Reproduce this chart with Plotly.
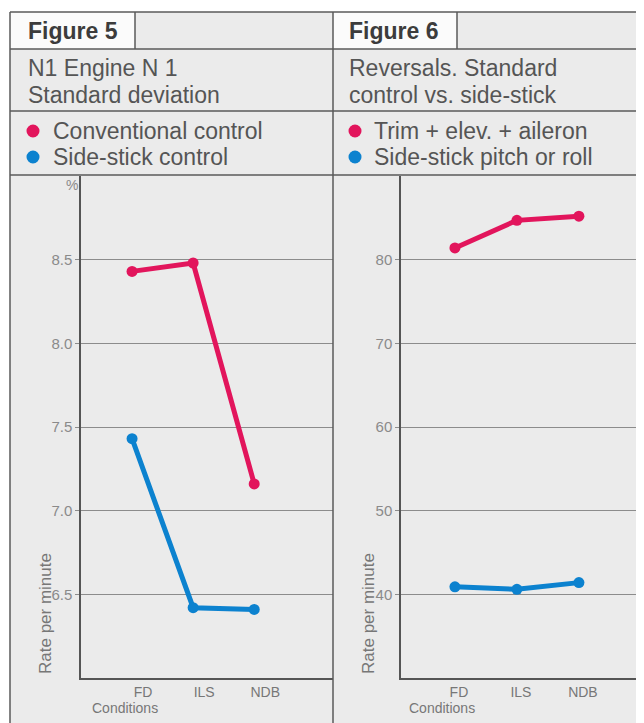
import plotly.graph_objects as go

# The page body has an 8px margin, so the figure is drawn from (8, 8)
OFF = 8
W, H = 644 - OFF, 723 - OFF

# ---- data ----
conditions = ["FD", "ILS", "NDB"]
fig5_conventional = [8.43, 8.48, 7.16]
fig5_sidestick = [7.43, 6.42, 6.41]
fig6_trim_elev_aileron = [81.4, 84.7, 85.2]
fig6_sidestick_pitch_roll = [40.9, 40.6, 41.4]
fig5_yticks = [6.5, 7.0, 7.5, 8.0, 8.5]
fig6_yticks = [40, 50, 60, 70, 80]

RED = "#e2155c"
BLUE = "#0c82cf"
FONT = "Liberation Sans, Arial, Helvetica, sans-serif"


def px(x):
    return (x - OFF) / W


def py(y):
    return 1 - (y - OFF) / H


fig = go.Figure()

fig.add_trace(go.Scatter(x=conditions, y=fig5_conventional, mode="lines+markers",
                         line=dict(color=RED, width=5), marker=dict(color=RED, size=11),
                         xaxis="x", yaxis="y", showlegend=False, name="Conventional control"))
fig.add_trace(go.Scatter(x=conditions, y=fig5_sidestick, mode="lines+markers",
                         line=dict(color=BLUE, width=5), marker=dict(color=BLUE, size=11),
                         xaxis="x", yaxis="y", showlegend=False, name="Side-stick control"))
fig.add_trace(go.Scatter(x=conditions, y=fig6_trim_elev_aileron, mode="lines+markers",
                         line=dict(color=RED, width=5), marker=dict(color=RED, size=11),
                         xaxis="x2", yaxis="y2", showlegend=False, name="Trim + elev. + aileron"))
fig.add_trace(go.Scatter(x=conditions, y=fig6_sidestick_pitch_roll, mode="lines+markers",
                         line=dict(color=BLUE, width=5), marker=dict(color=BLUE, size=11),
                         xaxis="x2", yaxis="y2", showlegend=False, name="Side-stick pitch or roll"))

ydom = [py(678), py(176)]
GRID = "#8c8c8c"
AXL = "#555555"
TICKF = dict(family=FONT, size=15, color="#8a8a8a")

common_y = dict(domain=ydom, showgrid=True, gridcolor=GRID, gridwidth=1.3,
                showline=True, linecolor=AXL, linewidth=1.5, zeroline=False,
                ticks="outside", ticklen=4, tickcolor=GRID, tickwidth=1.3,
                tickfont=TICKF, fixedrange=True)
common_x = dict(type="category", categoryarray=conditions, categoryorder="array",
                showgrid=False, showline=True, linecolor=AXL, linewidth=1.5,
                ticks="", tickfont=dict(family=FONT, size=14, color="#777777"),
                zeroline=False, fixedrange=True)

fig.update_layout(
    width=W, height=H,
    margin=dict(l=0, r=0, t=0, b=0),
    paper_bgcolor="white",
    plot_bgcolor="rgba(0,0,0,0)",
    font=dict(family=FONT),
    xaxis=dict(domain=[px(81), px(333)], range=[-0.836, 3.29], anchor="y",
               ticklabelshift=11, **common_x),
    yaxis=dict(range=[6.0, 9.0], tickvals=fig5_yticks,
               ticktext=[f"{v:.1f}" for v in fig5_yticks], anchor="x", **common_y),
    xaxis2=dict(domain=[px(401), 1.0], range=[-0.87, 3.05], anchor="y2",
                ticklabelshift=4, **common_x),
    yaxis2=dict(range=[30, 90], tickvals=fig6_yticks,
                ticktext=[str(v) for v in fig6_yticks], anchor="x2", **common_y),
)

shapes = []
FR = "#5a5a5a"


def rect(x0, y0, x1, y1, fill, layer="below"):
    shapes.append(dict(type="rect", xref="paper", yref="paper",
                       x0=px(x0), x1=px(x1), y0=py(y1), y1=py(y0),
                       fillcolor=fill, line=dict(width=0), layer=layer))


def line(x0, y0, x1, y1, w=1.5, color=FR):
    shapes.append(dict(type="line", xref="paper", yref="paper",
                       x0=px(x0), x1=px(x1), y0=py(y0), y1=py(y1),
                       line=dict(color=color, width=w), layer="above"))


rect(10, 12, 644, 723, "#ebebeb")
rect(10, 12, 135, 49, "#fbfbfb")
rect(333, 12, 457, 49, "#fbfbfb")
line(10, 12, 644, 12)
line(10, 12, 10, 723)
line(333, 12, 333, 723)
line(10, 49, 644, 49)
line(10, 111, 644, 111)
line(10, 175, 644, 175)
line(135, 12, 135, 49)
line(457, 12, 457, 49)

# legend dots
for cx, cy, col in [(33, 131, RED), (33, 157, BLUE), (355, 131, RED), (355, 157, BLUE)]:
    r = 6.5
    shapes.append(dict(type="circle", xref="paper", yref="paper",
                       x0=px(cx - r), x1=px(cx + r), y0=py(cy + r), y1=py(cy - r),
                       fillcolor=col, line=dict(width=0), layer="above"))

fig.update_layout(shapes=shapes)

ann = []
HEAD = "#555555"


def text(s, x, y, size=24, color=HEAD, anchor="left", bold=False, angle=0):
    ann.append(dict(text=f"<b>{s}</b>" if bold else s, x=px(x), y=py(y),
                    xref="paper", yref="paper", xanchor=anchor, yanchor="middle",
                    showarrow=False, textangle=angle,
                    font=dict(family=FONT, size=size, color=color)))


text("Figure 5", 26, 31, size=23, color="#3c3c3c", bold=True)
text("Figure 6", 347, 31, size=23, color="#3c3c3c", bold=True)
text("N1 Engine N 1", 26, 68, size=23)
text("Standard deviation", 26, 94.5, size=23)
text("Reversals. Standard", 347, 68, size=23)
text("control vs. side-stick", 347, 94.5, size=23)
text("Conventional control", 51, 130.5, size=23)
text("Side-stick control", 51, 157, size=23)
text("Trim + elev. + aileron", 372, 130.5, size=23)
text("Side-stick pitch or roll", 372, 157, size=23)
text("%", 72, 185, size=14, color="#8a8a8a", anchor="center")
text("Rate per minute", 45, 614, size=17, color="#777777", anchor="center", angle=-90)
text("Rate per minute", 368, 614, size=17, color="#777777", anchor="center", angle=-90)
text("Conditions", 125, 708, size=14, color="#777777", anchor="center")
text("Conditions", 442, 708, size=14, color="#777777", anchor="center")

fig.update_layout(annotations=ann)

fig.write_html("out.html")
